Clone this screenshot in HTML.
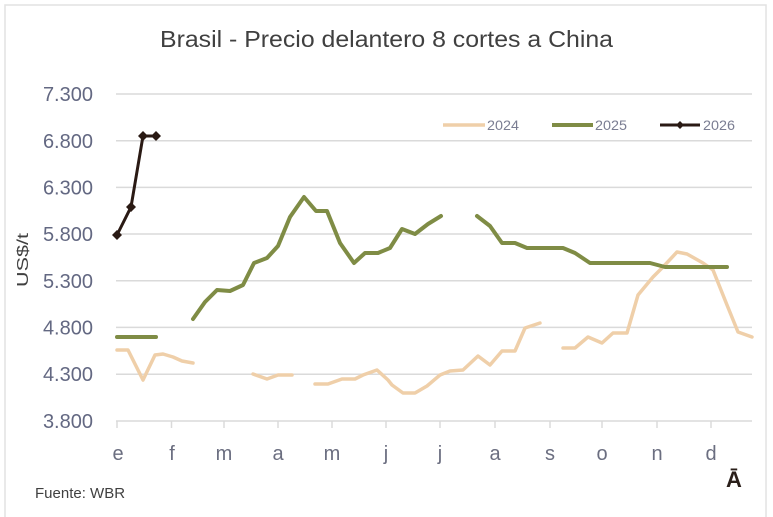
<!DOCTYPE html>
<html><head><meta charset="utf-8"><style>
html,body{margin:0;padding:0;background:#fff;}
svg{display:block;}
text{font-family:"Liberation Sans",Arial,sans-serif;}
</style></head><body>
<svg width="773" height="517" viewBox="0 0 773 517" xmlns="http://www.w3.org/2000/svg">
<rect x="0" y="0" width="773" height="517" fill="#fff"/>
<rect x="5" y="5" width="761" height="520" fill="none" stroke="#e2e2e2" stroke-width="1.5"/>
<text x="160" y="47" font-size="23" fill="#404040" textLength="453" lengthAdjust="spacingAndGlyphs">Brasil - Precio delantero 8 cortes a China</text>
<g stroke="#dadada" stroke-width="1.5">
<line x1="116" y1="94" x2="752" y2="94"/>
<line x1="116" y1="140.7" x2="752" y2="140.7"/>
<line x1="116" y1="187.4" x2="752" y2="187.4"/>
<line x1="116" y1="234" x2="752" y2="234"/>
<line x1="116" y1="280.7" x2="752" y2="280.7"/>
<line x1="116" y1="327.4" x2="752" y2="327.4"/>
<line x1="116" y1="374.2" x2="752" y2="374.2"/>
<line x1="116" y1="421" x2="752" y2="421"/>
<line x1="117" y1="421" x2="117" y2="428"/>
<line x1="171.5" y1="421" x2="171.5" y2="428"/>
<line x1="224" y1="421" x2="224" y2="428"/>
<line x1="278" y1="421" x2="278" y2="428"/>
<line x1="332" y1="421" x2="332" y2="428"/>
<line x1="386" y1="421" x2="386" y2="428"/>
<line x1="440" y1="421" x2="440" y2="428"/>
<line x1="495" y1="421" x2="495" y2="428"/>
<line x1="550" y1="421" x2="550" y2="428"/>
<line x1="602" y1="421" x2="602" y2="428"/>
<line x1="657" y1="421" x2="657" y2="428"/>
<line x1="711" y1="421" x2="711" y2="428"/>
</g>
<g font-size="20" fill="#636882" text-anchor="end">
<text x="93" y="101">7.300</text>
<text x="93" y="148">6.800</text>
<text x="93" y="194.5">6.300</text>
<text x="93" y="241">5.800</text>
<text x="93" y="288">5.300</text>
<text x="93" y="334.5">4.800</text>
<text x="93" y="381">4.300</text>
<text x="93" y="428">3.800</text>
</g>
<text transform="translate(28,287) rotate(-90)" font-size="16" fill="#404040" textLength="54" lengthAdjust="spacingAndGlyphs">US$/t</text>
<g font-size="20" fill="#6b6e80" text-anchor="middle">
<text x="118" y="460">e</text>
<text x="172" y="460">f</text>
<text x="224" y="460">m</text>
<text x="278" y="460">a</text>
<text x="332" y="460">m</text>
<text x="386" y="460">j</text>
<text x="440" y="460">j</text>
<text x="495" y="460">a</text>
<text x="550" y="460">s</text>
<text x="602" y="460">o</text>
<text x="657" y="460">n</text>
<text x="711" y="460">d</text>
</g>
<text x="35" y="498" font-size="15" fill="#404040">Fuente: WBR</text>
<text x="734" y="487" text-anchor="middle" font-size="22" font-weight="bold" fill="#2a1f1a">Ā</text>
<!-- legend -->
<g font-size="14" fill="#7a7d92">
<line x1="443" y1="125" x2="485" y2="125" stroke="#efcfa9" stroke-width="3.5"/>
<text x="487" y="130" textLength="32" lengthAdjust="spacingAndGlyphs">2024</text>
<line x1="552" y1="125" x2="593" y2="125" stroke="#7f8c45" stroke-width="4"/>
<text x="595" y="130" textLength="32" lengthAdjust="spacingAndGlyphs">2025</text>
<line x1="660" y1="125" x2="700" y2="125" stroke="#2a1a14" stroke-width="3"/>
<path d="M680 121 L684 125 L680 129 L676 125 Z" fill="#2a1a14"/>
<text x="703" y="130" textLength="32" lengthAdjust="spacingAndGlyphs">2026</text>
</g>
<!-- 2024 -->
<g fill="none" stroke="#efcfa9" stroke-width="3.5" stroke-linejoin="round" stroke-linecap="round">
<polyline points="117,350 128,350 143,380 155,355 163,354 173,357 182,361 193,363"/>
<polyline points="253,374 267,379 278,375 292,375"/>
<polyline points="315,384 328,384 342,379 355,379 363,375 377,370 388,380 392,385 403,393 415,393 427,386 440,375 450,371 463,370 478,356 490,365 502,351 515,351 525,328 540,323"/>
<polyline points="563,348 575,348 588,337 602,343 613,333 627,333 638,295 653,277 663,267 677,252 687,254 703,263 713,270 727,305 738,332 752,337"/>
</g>
<!-- 2025 -->
<g fill="none" stroke="#7f8c45" stroke-width="4" stroke-linejoin="round" stroke-linecap="round">
<polyline points="117,337 156,337"/>
<polyline points="193,319 205,302 217,290 230,291 243,285 254,263 267,258 278,246 290,217 304,197 316,211 327,211 340,243 354,263 365,253 378,253 390,248 402,229 415,234 428,224 441,216"/>
<polyline points="477,216 490,226 502,243 515,243 527,248 563,248 575,253 590,263 650,263 665,267 727,267"/>
</g>
<!-- 2026 -->
<g>
<polyline points="117,235 131,207 143,136 156,136" fill="none" stroke="#2a1a14" stroke-width="3" stroke-linejoin="round"/>
<g fill="#2a1a14">
<path d="M117 230 L122 235 L117 240 L112 235 Z"/>
<path d="M131 202 L136 207 L131 212 L126 207 Z"/>
<path d="M143 131 L148 136 L143 141 L138 136 Z"/>
<path d="M156 131 L161 136 L156 141 L151 136 Z"/>
</g>
</g>
</svg>
</body></html>
